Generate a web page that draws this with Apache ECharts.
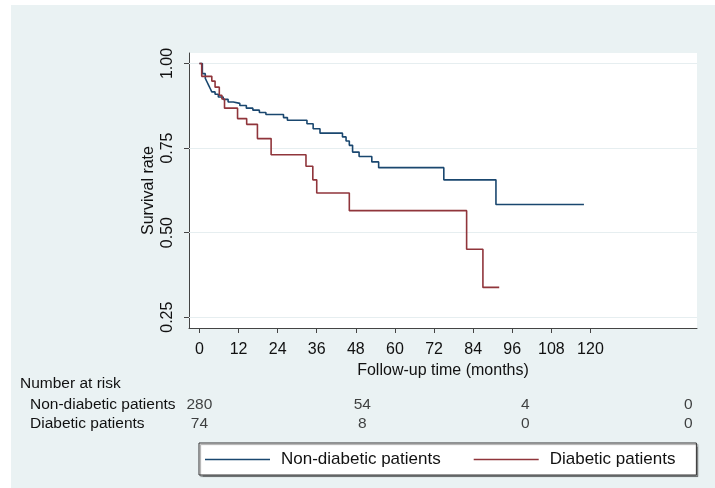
<!DOCTYPE html>
<html>
<head>
<meta charset="utf-8">
<script src="https://cdn.jsdelivr.net/npm/echarts@6/dist/echarts.min.js"></script>
<style>
html,body{margin:0;padding:0;background:#fff;}
#chart{width:715px;height:488px;}
</style>
</head>
<body>
<div id="chart"></div>
<script>
// ---- data ----
var xTicks = [0, 12, 24, 36, 48, 60, 72, 84, 96, 108, 120];
var yTicks = [0.25, 0.50, 0.75, 1.00];

var seriesNames = ['Non-diabetic patients', 'Diabetic patients'];

var nonDiabTime = [0, 0.9, 1.8, 2.3, 2.8, 3.3, 3.8, 4.8, 5.8, 7.3, 8.8, 10.4, 12.4, 14.4, 16.4, 18.4, 20.4, 25.8, 27, 33, 34.9, 37, 43.9, 45, 46, 47, 49, 52.9, 55, 75, 91, 118];
var nonDiabSurv = [1, 0.97, 0.956, 0.946, 0.936, 0.926, 0.916, 0.909, 0.901, 0.894, 0.886, 0.882, 0.876, 0.868, 0.862, 0.855, 0.849, 0.84, 0.832, 0.822, 0.807, 0.794, 0.783, 0.771, 0.758, 0.738, 0.725, 0.709, 0.692, 0.656, 0.583, 0.583];

var diabTime = [0, 0.7, 3.8, 4.8, 6.1, 6.9, 7.7, 11.7, 14.5, 17.8, 22, 32.7, 34.8, 36, 46, 82, 87, 92];
var diabSurv = [1, 0.962, 0.948, 0.93, 0.906, 0.895, 0.868, 0.837, 0.82, 0.778, 0.730, 0.696, 0.656, 0.617, 0.565, 0.451, 0.338, 0.338];

var riskTimes = [0, 50, 100, 150];
var riskNonDiab = [280, 54, 4, 0];
var riskDiab = [74, 8, 0, 0];

// ---- build ----
function pairs(t, s) { return t.map(function (v, i) { return [v, s[i]]; }); }
var riskData = [];
riskTimes.forEach(function (t, i) {
  riskData.push([t, 0, riskNonDiab[i]]);
  riskData.push([t, 1, riskDiab[i]]);
});

var FONT = '"Liberation Sans", Arial, sans-serif';
var XMIN = -3.2, XMAX = 152.7;

var chart = echarts.init(document.getElementById('chart'), null, {renderer: 'canvas'});
chart.setOption({
  backgroundColor: '#ffffff',
  animation: false,
  textStyle: {fontFamily: FONT, color: '#111'},
  graphic: [{
    type: 'rect', z: -100, silent: true,
    shape: {x: 11, y: 5, width: 704, height: 483},
    style: {fill: '#EAF2F3'}
  }],
  title: {
    text: 'Number at risk', left: 20, top: 376,
    textStyle: {fontFamily: FONT, fontSize: 15.5, fontWeight: 'normal', color: '#111'},
    padding: 0
  },
  legend: {
    left: 199, top: 443,
    data: seriesNames,
    icon: 'rect',
    itemWidth: 65, itemHeight: 1.6, itemGap: 33,
    padding: [7, 21, 6, 6],
    backgroundColor: '#fff',
    borderColor: '#333', borderWidth: 1,
    shadowColor: 'rgba(0,0,0,0.35)', shadowOffsetX: 1.5, shadowOffsetY: 1.5, shadowBlur: 1,
    textStyle: {fontFamily: FONT, fontSize: 17, color: '#111', padding: [0, 0, 0, 6], lineHeight: 19}
  },
  grid: [
    {left: 189, right: 18, top: 53, bottom: 160, show: true, backgroundColor: '#fff', borderWidth: 0},
    {left: 189, right: 18, top: 395.5, height: 38, show: false}
  ],
  xAxis: [{
    type: 'value', gridIndex: 0, min: XMIN, max: XMAX,
    axisLine: {show: true, onZero: false, lineStyle: {color: '#444', width: 1}},
    axisTick: {show: true, length: 5, customValues: xTicks, lineStyle: {color: '#444'}},
    axisLabel: {customValues: xTicks, fontSize: 16, color: '#111', margin: 14, fontFamily: FONT},
    splitLine: {show: false},
    name: 'Follow-up time (months)', nameLocation: 'middle', nameGap: 31,
    nameTextStyle: {fontSize: 16, color: '#111', fontFamily: FONT}
  }, {
    type: 'value', gridIndex: 1, min: XMIN, max: XMAX, show: false
  }],
  yAxis: [{
    type: 'value', gridIndex: 0, min: 0.218, max: 1.031,
    axisLine: {show: true, onZero: false, lineStyle: {color: '#444', width: 1}},
    axisTick: {show: true, length: 5, customValues: yTicks, lineStyle: {color: '#444'}},
    axisLabel: {customValues: yTicks, rotate: 90, fontSize: 16, color: '#111', margin: 13, fontFamily: FONT,
      formatter: function (v) { return v.toFixed(2); }},
    splitLine: {show: false},
    name: 'Survival rate', nameLocation: 'middle', nameGap: 32, nameRotate: 90,
    nameMoveOverlap: false,
    nameTextStyle: {fontSize: 16, color: '#111', fontFamily: FONT}
  }, {
    type: 'category', gridIndex: 1, inverse: true, data: seriesNames,
    axisLine: {show: false}, axisTick: {show: false}, splitLine: {show: false},
    axisLabel: {interval: 0, hideOverlap: false, align: 'left', margin: 159, fontSize: 15.5, color: '#111', fontFamily: FONT}
  }],
  series: [{
    name: seriesNames[0], type: 'line', step: 'end', symbol: 'none',
    xAxisIndex: 0, yAxisIndex: 0,
    data: pairs(nonDiabTime, nonDiabSurv),
    lineStyle: {color: '#1A476F', width: 1.6}, itemStyle: {color: '#1A476F'},
    markLine: {
      silent: true, symbol: 'none', label: {show: false}, z: 1,
      lineStyle: {color: '#e6eef0', width: 1, type: 'solid'},
      data: yTicks.map(function (v) { return {yAxis: v}; })
    },
    z: 3
  }, {
    name: seriesNames[1], type: 'line', step: 'end', symbol: 'none',
    xAxisIndex: 0, yAxisIndex: 0,
    data: pairs(diabTime, diabSurv),
    lineStyle: {color: '#90353B', width: 1.6}, itemStyle: {color: '#90353B'},
    z: 3
  }, {
    type: 'scatter', xAxisIndex: 1, yAxisIndex: 1,
    data: riskData, symbolSize: 1, itemStyle: {color: 'rgba(0,0,0,0)'},
    label: {show: true, position: 'inside', fontSize: 15.5, color: '#111', fontFamily: FONT,
      formatter: function (p) { return String(p.value[2]); }},
    silent: true
  }]
});
</script>
</body>
</html>
